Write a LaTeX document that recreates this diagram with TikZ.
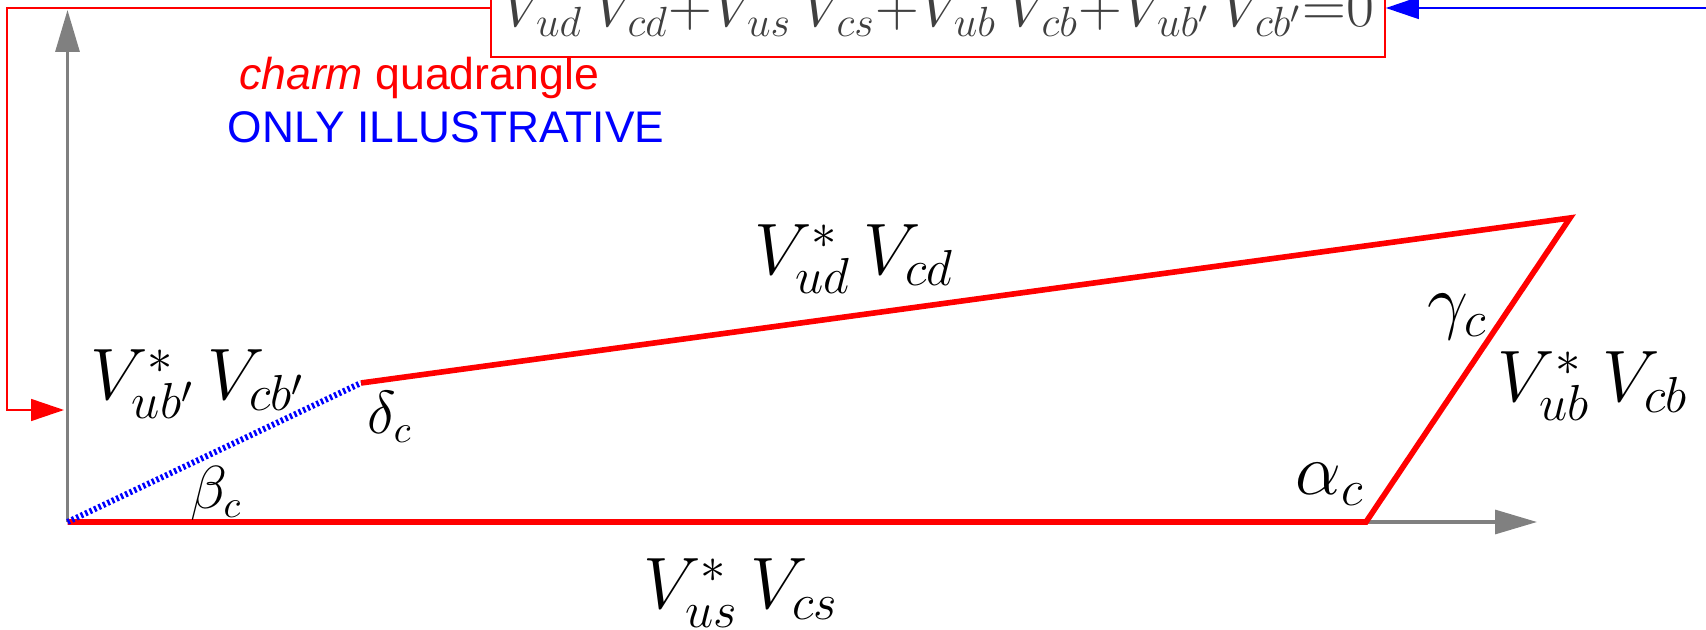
\documentclass[tikz,border=0pt]{standalone}
\usepackage{fontspec}
\newfontfamily\arialfont{Liberation Sans}
\usetikzlibrary{arrows.meta}

\begin{document}
\begin{tikzpicture}[
  axis/.style={draw=gray,line width=0.9pt,-{Triangle[length=0.42cm,width=0.24cm]}},
  side/.style={red,line width=1.6pt},
  link/.style={line width=0.45pt,-{Triangle[length=0.33cm,width=0.22cm]}},
  lbl/.style={font=\fontsize{21}{25}\selectfont},
  ang/.style={font=\fontsize{20}{24}\selectfont},
  eqbox/.style={draw=red,line width=0.5pt,anchor=base,inner sep=0pt,
    minimum width=8.94cm,text depth=0.30cm,text height=0.68cm,
    text=black!75,font=\fontsize{18}{21}\selectfont}]
\useasboundingbox (0,0) rectangle (17.06,6.29);

% corners of the quadrangle
\coordinate (A) at (0.675,1.07);
\coordinate (B) at (13.66,1.07);
\coordinate (C) at (15.70,4.11);
\coordinate (D) at (3.61,2.46);

% axes
\coordinate (xtip) at (15.37,1.07);
\coordinate (ytip) at (0.675,6.19);
\draw [axis] (A) -- (xtip);
\draw [axis] (A) -- (ytip);

% sides
\draw [side] (D) -- (C) -- (B) -- (A);
\draw [blue,line width=1.7pt,dash pattern=on 0.7pt off 0.7pt] (A) -- (D);

% unitarity relation
\node [eqbox] (eq) at (9.38,6.02) {$V_{ud}\,V_{cd}{+}V_{us}\,V_{cs}{+}V_{ub}\,V_{cb}{+}V_{ub'}\,V_{cb'}{=}0$};

\node [red,font=\arialfont\fontsize{12.7}{15}\selectfont] (title) at (4.19,5.51) {\textit{charm} quadrangle};
\node [blue,font=\arialfont\fontsize{12.6}{15}\selectfont] (note) at (4.46,5.02) {ONLY ILLUSTRATIVE};

% side labels
\node [lbl] (sud) at (8.54,3.70) {$V^*_{ud}\,V_{cd}$};
\node [lbl] (subp) at (1.98,2.45) {$V^*_{ub'}\,V_{cb'}$};
\node [lbl] (sub) at (15.93,2.43) {$V^*_{ub}\,V_{cb}$};
\node [lbl] (sus) at (7.41,0.36) {$V^*_{us}\,V_{cs}$};

% angles
\node [ang] (alpha) at (13.30,1.45) {$\alpha_c$};
\node [ang] (gamma) at (14.58,3.12) {$\gamma_c$};
\node [ang,font=\fontsize{16}{19}\selectfont] (beta) at (2.16,1.36) {$\beta_c$};
\node [ang,font=\fontsize{16}{19}\selectfont] (delta) at (3.90,2.12) {$\delta_c$};

% arrows to the relation
\coordinate (lbend) at (0.07,2.19);
\coordinate (lend) at (0.64,2.19);
\draw [link,red] (eq.west) -| (lbend) -- (lend);
\coordinate (rstart) at (17.10,6.21);
\draw [link,blue] (rstart) -- (eq.east);
\end{tikzpicture}
\end{document}
